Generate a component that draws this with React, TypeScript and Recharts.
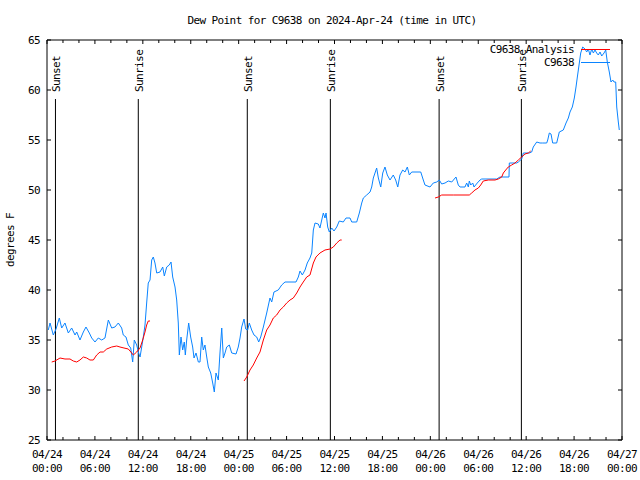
import { LineChart, Line, XAxis, YAxis, ReferenceLine, Legend } from 'recharts';

// hours after 2024-04-24 00:00 UTC, dew point in °F
const station: [number, number][] = [
  [0.16, 36.0], [0.38, 36.7], [0.79, 35.5], [1.13, 36.1], [1.54, 37.2], [1.84, 36.2], [2.25, 36.7], [2.67, 35.7],
  [3.09, 36.2], [3.51, 35.5], [3.72, 35.8], [4.13, 35.0], [4.55, 35.8], [4.88, 36.3], [5.3, 35.7], [5.6, 35.2],
  [6.01, 34.8], [6.42, 35.2], [6.85, 35.0], [7.26, 35.2], [7.68, 37.0], [8.1, 36.2], [8.51, 36.3], [8.93, 36.7],
  [9.35, 36.2], [9.55, 35.5], [9.89, 35.3], [10.18, 34.5], [10.48, 34.2], [10.73, 32.8], [10.93, 35.0], [11.23, 34.5],
  [11.48, 33.7], [11.65, 33.3], [11.86, 34.3], [12.06, 35.3], [12.27, 36.5], [12.48, 38.7], [12.68, 40.7], [12.9, 41.0],
  [13.11, 43.0], [13.31, 43.3], [13.52, 42.7], [13.74, 41.7], [14.15, 41.8], [14.49, 42.3], [14.69, 41.4], [14.99, 42.3],
  [15.31, 42.5], [15.53, 42.8], [15.74, 41.3], [16.03, 40.3], [16.24, 39.0], [16.44, 36.7], [16.57, 33.5], [16.78, 35.3],
  [16.99, 34.0], [17.19, 34.8], [17.32, 33.5], [17.49, 35.0], [17.74, 36.7], [17.99, 35.3], [18.24, 34.3], [18.41, 33.2],
  [18.66, 33.7], [18.95, 32.8], [19.16, 32.8], [19.37, 35.3], [19.57, 34.0], [19.78, 34.5], [20.0, 33.3], [20.2, 32.3],
  [20.5, 31.7], [20.75, 30.7], [20.95, 29.8], [21.16, 31.7], [21.45, 31.0], [21.66, 33.7], [21.88, 36.2], [22.08, 33.2],
  [22.29, 33.7], [22.5, 34.3], [22.83, 34.5], [23.13, 33.7], [23.67, 33.6], [23.95, 34.3], [24.17, 35.2], [24.38, 36.3],
  [24.67, 37.1], [24.88, 36.1], [25.13, 36.0], [25.33, 36.7], [25.63, 36.0], [25.92, 35.5], [26.26, 35.3], [26.51, 34.8],
  [26.76, 35.3], [27.09, 36.3], [27.51, 37.7], [27.92, 39.2], [28.14, 38.8], [28.42, 39.8], [28.96, 40.0], [29.39, 40.5],
  [29.8, 40.8], [30.43, 40.8], [31.18, 40.8], [31.47, 41.3], [31.68, 41.9], [31.97, 41.5], [32.31, 42.0], [32.59, 42.7],
  [32.93, 43.2], [33.15, 43.7], [33.35, 46.0], [33.56, 46.7], [33.97, 46.6], [34.18, 46.2], [34.4, 47.0], [34.6, 47.7],
  [34.81, 47.2], [34.94, 47.7], [35.15, 46.3], [35.35, 45.8], [35.65, 46.2], [35.94, 45.9], [36.28, 46.3], [36.6, 46.9],
  [37.1, 46.8], [37.44, 47.2], [37.94, 47.2], [38.16, 46.8], [38.78, 46.8], [39.11, 47.7], [39.41, 48.7], [39.61, 49.2],
  [40.03, 49.5], [40.45, 49.8], [40.66, 50.3], [40.86, 51.2], [41.07, 51.7], [41.28, 52.2], [41.49, 51.2], [41.79, 50.3],
  [42.04, 51.7], [42.32, 52.3], [42.61, 51.5], [42.95, 51.0], [43.36, 51.5], [43.66, 51.0], [43.92, 50.3], [44.2, 51.5],
  [44.54, 52.0], [44.83, 51.8], [45.12, 52.3], [45.37, 51.5], [45.67, 51.8], [46.8, 51.8], [47.12, 51.0], [47.33, 50.5],
  [47.96, 50.3], [48.37, 50.7], [48.8, 50.8], [49.12, 51.0], [49.42, 50.6], [49.84, 50.7], [50.25, 50.9], [50.68, 50.8],
  [51.21, 51.3], [51.5, 50.5], [51.72, 50.3], [52.34, 50.3], [52.55, 50.7], [52.76, 50.3], [52.88, 50.9], [53.06, 50.5],
  [53.31, 50.7], [53.47, 50.3], [53.88, 50.7], [54.22, 51.0], [54.43, 51.1], [56.31, 51.1], [56.72, 51.3], [57.85, 51.3],
  [57.89, 52.7], [58.82, 52.7], [59.02, 52.8], [59.44, 53.1], [59.64, 53.7], [59.98, 53.7], [60.39, 53.7], [60.69, 53.8],
  [60.89, 54.3], [61.32, 54.8], [61.73, 54.7], [62.07, 54.7], [62.57, 54.7], [62.7, 55.0], [62.9, 55.7], [63.11, 55.6],
  [63.32, 54.7], [63.82, 54.7], [64.15, 55.8], [64.65, 56.0], [64.99, 56.7], [65.28, 57.2], [65.49, 57.8], [65.78, 58.3],
  [66.03, 59.2], [66.24, 60.3], [66.41, 61.3], [66.62, 62.5], [66.83, 63.7], [67.08, 64.3], [67.37, 64.1], [67.58, 63.8],
  [67.78, 64.1], [67.99, 63.5], [68.21, 64.1], [68.41, 63.7], [68.62, 64.0], [68.83, 63.7], [69.03, 63.5], [69.25, 63.8],
  [69.46, 63.4], [69.75, 63.7], [69.96, 64.0], [70.16, 62.8], [70.41, 61.8], [70.62, 60.8], [70.84, 61.0], [71.0, 60.8],
  [71.21, 60.8], [71.34, 58.3], [71.54, 56.8], [71.66, 56.0],
];

const analysisNight1: [number, number][] = [
  [0.59, 32.8], [1.0, 32.9], [1.63, 33.2], [2.25, 33.1], [2.88, 33.1], [3.29, 32.9], [3.72, 32.8], [4.13, 33.0],
  [4.55, 33.3], [4.97, 33.2], [5.38, 33.0], [5.8, 33.0], [6.22, 33.5], [6.64, 33.8], [7.05, 33.8], [7.48, 34.1],
  [8.1, 34.3], [8.73, 34.4], [9.14, 34.3], [9.64, 34.2], [10.18, 34.1], [10.61, 33.7], [10.81, 33.5], [11.23, 33.8],
  [11.65, 34.2], [11.98, 35.0], [12.27, 35.8], [12.48, 36.5], [12.68, 36.9], [12.9, 36.9],
];
const analysisNight2: [number, number][] = [
  [24.67, 30.9], [25.01, 31.3], [25.42, 32.0], [25.83, 32.5], [26.26, 33.2], [26.67, 33.8], [27.09, 35.0], [27.51, 36.0],
  [27.92, 36.5], [28.34, 37.2], [28.76, 37.5], [29.18, 38.0], [29.59, 38.3], [30.01, 38.7], [30.43, 39.0], [30.84, 39.2],
  [31.27, 39.7], [31.68, 40.3], [32.09, 40.8], [32.52, 41.3], [32.93, 41.5], [33.35, 42.7], [33.68, 43.3], [34.18, 43.7],
  [34.81, 44.0], [35.44, 44.1], [35.85, 44.3], [36.28, 44.7], [36.69, 45.0], [36.9, 45.0],
];
const analysisNight3: [number, number][] = [
  [48.59, 49.2], [49.0, 49.3], [49.42, 49.5], [50.88, 49.5], [52.88, 49.5], [53.18, 49.7], [53.59, 50.0], [54.01, 50.2],
  [54.31, 50.5], [54.63, 50.9], [55.26, 51.0], [56.1, 51.0], [56.51, 51.1], [56.94, 51.3], [57.14, 51.7], [57.44, 52.0],
  [57.76, 52.3], [58.19, 52.5], [58.6, 52.7], [59.02, 53.0], [59.44, 53.3], [59.85, 53.6], [60.27, 53.7], [60.57, 53.9],
];

const sunHours = [1.06, 11.43, 25.08, 35.48, 49.1, 59.4];
const sunLabels = ['Sunset', 'Sunrise', 'Sunset', 'Sunrise', 'Sunset', 'Sunrise'];
const dayLabels = ['04/24', '04/25', '04/26', '04/27'];
const hourTicks = Array.from({ length: 37 }, (_, i) => i * 2);
const degTicks = [25, 30, 35, 40, 45, 50, 55, 60, 65];

const FONT = '"DejaVu Sans Mono", monospace';
const BLUE = '#0a84ff';
const RED = '#ff0000';

const toRows = (pts: [number, number][]) => pts.map(([h, v]) => ({ h, v }));

const txt = { fontFamily: FONT, fontSize: 11, letterSpacing: -0.6, fill: '#000' } as const;

const BottomTick = ({ x, y, payload }: any) => {
  const h = payload.value as number;
  const major = h % 6 === 0;
  const hh = String(h % 24).padStart(2, '0');
  return (
    <g>
      <line x1={x} x2={x} y1={y} y2={y - (major ? 4 : 3)} stroke="#000" />
      {major && (
        <text x={x} y={y + 18} textAnchor="middle" {...txt}>
          <tspan x={x}>{dayLabels[Math.floor(h / 24)]}</tspan>
          <tspan x={x} dy={14}>{`${hh}:00`}</tspan>
        </text>
      )}
    </g>
  );
};

const TopTick = ({ x, y, payload }: any) => {
  const major = (payload.value as number) % 6 === 0;
  return <line x1={x} x2={x} y1={y} y2={y + (major ? 4 : 3)} stroke="#000" />;
};

const LeftTick = ({ x, y, payload }: any) => (
  <g>
    <line x1={x} x2={x + 4} y1={y} y2={y} stroke="#000" />
    <text x={x - 7} y={y + 4} textAnchor="end" {...txt}>{payload.value}</text>
  </g>
);

const RightTick = ({ x, y }: any) => <line x1={x} x2={x - 4} y1={y} y2={y} stroke="#000" />;

const SunLabel = (text: string) => (props: any) => {
  const { x, y } = props.viewBox;
  return (
    <text transform={`translate(${x + 4.5},${y - 7}) rotate(-90)`} textAnchor="start" {...txt}>
      {text}
    </text>
  );
};

const LegendBox = () => (
  <svg width={640} height={80}>
    <text x={574} y={53} textAnchor="end" {...txt}>C9638 Analysis</text>
    <line x1={581} x2={610} y1={49.5} y2={49.5} stroke={RED} />
    <text x={574} y={66} textAnchor="end" {...txt}>C9638</text>
    <line x1={581} x2={610} y1={62.5} y2={62.5} stroke={BLUE} />
  </svg>
);

export default function App() {
  return (
    <div style={{ position: 'absolute', left: 0, top: 0, width: 640, height: 480, background: '#fff' }}>
      <LineChart width={640} height={480} margin={{ top: 39, right: 17, bottom: 39, left: 46 }}>
        <text x={332} y={24} textAnchor="middle" {...txt}>
          Dew Point for C9638 on 2024-Apr-24 (time in UTC)
        </text>
        <text transform="translate(14,240) rotate(-90)" textAnchor="middle" {...txt}>
          degrees F
        </text>
        <XAxis
          xAxisId="b"
          type="number"
          dataKey="h"
          domain={[0, 72]}
          ticks={hourTicks}
          interval={0}
          height={1}
          tickSize={0}
          tickMargin={0}
          tickLine={false}
          tick={<BottomTick />}
          stroke="#000"
          allowDataOverflow
        />
        <XAxis
          xAxisId="t"
          orientation="top"
          type="number"
          dataKey="h"
          domain={[0, 72]}
          ticks={hourTicks}
          interval={0}
          height={1}
          tickSize={0}
          tickMargin={0}
          tickLine={false}
          tick={<TopTick />}
          stroke="#000"
          allowDataOverflow
        />
        <YAxis
          yAxisId="l"
          type="number"
          domain={[25, 65]}
          ticks={degTicks}
          interval={0}
          width={1}
          tickSize={0}
          tickMargin={0}
          tickLine={false}
          tick={<LeftTick />}
          stroke="#000"
          allowDataOverflow
        />
        <YAxis
          yAxisId="r"
          orientation="right"
          type="number"
          domain={[25, 65]}
          ticks={degTicks}
          interval={0}
          width={1}
          tickSize={0}
          tickMargin={0}
          tickLine={false}
          tick={<RightTick />}
          stroke="#000"
          allowDataOverflow
        />
        {sunHours.map((h, i) => (
          <ReferenceLine
            key={`sun-${i}`}
            xAxisId="b"
            yAxisId="l"
            segment={[{ x: h, y: 59.1 }, { x: h, y: 25 }]}
            stroke="#000"
            strokeWidth={1}
            label={SunLabel(sunLabels[i])}
          />
        ))}
        <Line
          xAxisId="b"
          yAxisId="l"
          data={toRows(station)}
          dataKey="v"
          name="C9638"
          stroke={BLUE}
          strokeWidth={1}
          dot={false}
          activeDot={false}
          isAnimationActive={false}
        />
        {[analysisNight1, analysisNight2, analysisNight3].map((seg, i) => (
          <Line
            key={`an-${i}`}
            xAxisId="b"
            yAxisId="l"
            data={toRows(seg)}
            dataKey="v"
            name="C9638 Analysis"
            stroke={RED}
            strokeWidth={1}
            dot={false}
            activeDot={false}
            legendType={i === 0 ? 'line' : 'none'}
            isAnimationActive={false}
          />
        ))}
        <Legend
          layout="horizontal"
          verticalAlign="middle"
          align="center"
          content={<LegendBox />}
          wrapperStyle={{ left: 0, top: 0, width: 640, height: 80 }}
        />
      </LineChart>
    </div>
  );
}
